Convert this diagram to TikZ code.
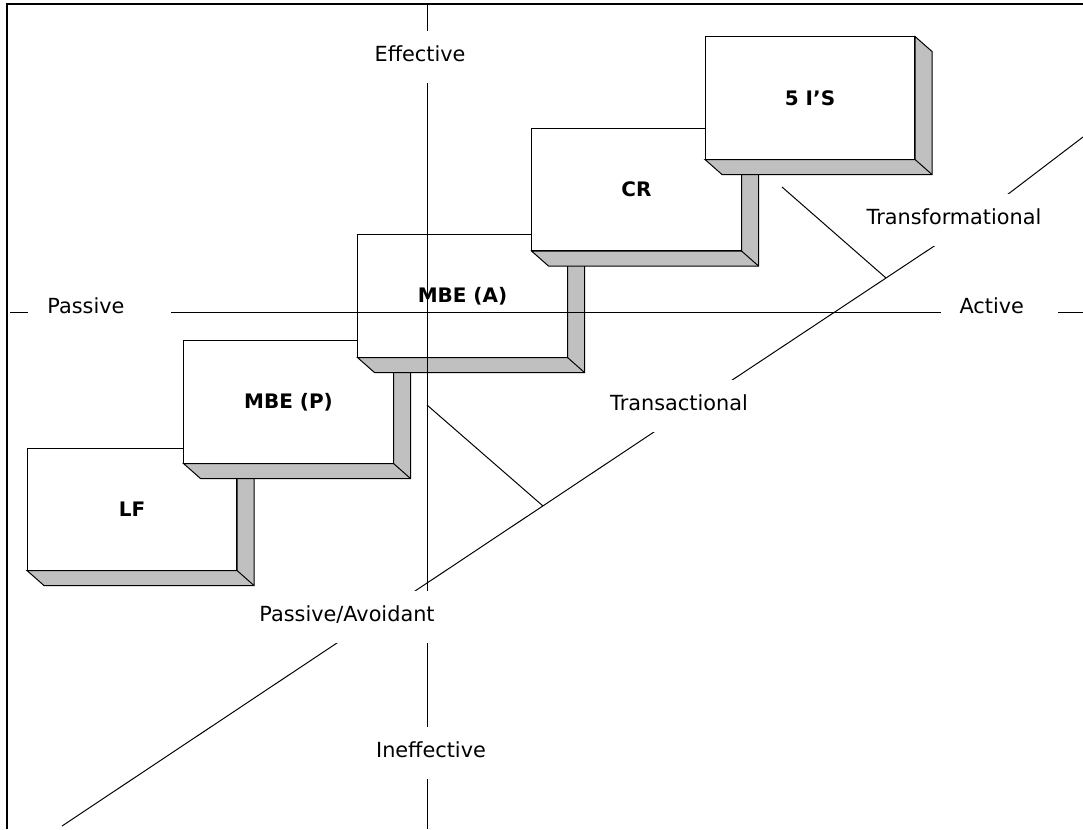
\documentclass[tikz,border=0pt]{standalone}
\usepackage{fontspec}
\setmainfont{DejaVu Sans}
\definecolor{stepgrey}{HTML}{C0C0C0}
\tikzset{
	stepbox/.style={draw, fill=white, minimum width=5.225cm, minimum height=3.05cm, inner sep=0pt, font=\fontsize{14.2}{17}\selectfont\bfseries},
	stepside/.style={draw, fill=stepgrey, line join=miter},
	axislbl/.style={fill=white, minimum height=1.3cm, text height=0.35cm, text depth=0.15cm, inner xsep=0.475cm, font=\fontsize{14.8}{17}\selectfont},
}

\begin{document}
\begin{tikzpicture}[x=0.025cm, y=-0.025cm, line width=0.7pt]
	\useasboundingbox (0,0) rectangle (1083,829);
	% steps, each one drawn over the one before
	\foreach \nm/\x/\y/\txt in {lf/132/509/LF, mbep/288.5/402/MBE (P), mbea/462.5/296/MBE (A), cr/636.5/189.5/CR, fivei/810/98/5 I’S}{
		\node[stepbox] (\nm) at (\x,\y) {\txt};
		\draw[stepside] (\nm.south west) -- ++(17,15) -- ([shift={(17,15)}]\nm.south east) -- ([shift={(17,15)}]\nm.north east) -- (\nm.north east) -- (\nm.south east) -- cycle;
		\draw (\nm.south east) -- ++(17,15);
	}
	% axes
	\coordinate (vtop) at (427,4);
	\coordinate (vbot) at (427,829);
	\coordinate (hleft) at (10,312);
	\coordinate (hright) at (1083,312);
	\draw (vtop) -- (vbot);
	\draw (hleft) -- (hright);
	% diagonal axis, bends hidden under the labels
	\coordinate (dlow) at (62,826);
	\coordinate (d1) at (376,617);
	\coordinate (d2) at (693,406);
	\coordinate (d3) at (978,217);
	\coordinate (dhigh) at (1083,137);
	\draw (dlow) -- (d1) -- (d2) -- (d3) -- (dhigh);
	% labels
	\node[axislbl] (eff) at (420,57) {Effective};
	\node[axislbl] (ineff) at (431,753) {Ineffective};
	\node[axislbl] (pasav) at (347,617) {Passive/Avoidant};
	\node[axislbl] (transac) at (679,406) {Transactional};
	\node[axislbl] (transf) at (954,220) {Transformational};
	\node[axislbl, anchor=west, text width=2.6cm, align=left] (pas) at (28,309) {Passive};
	\node[axislbl, anchor=west, text width=1.975cm, align=left] (act) at (940,309) {Active};
	% ticks to the diagonal
	\coordinate (tlow) at (427,405);
	\coordinate (tlowend) at (543,506);
	\coordinate (thigh) at (782,187);
	\coordinate (thighend) at (886,278);
	\draw (tlow) -- (tlowend);
	\draw (thigh) -- (thighend);
	% frame
	\draw[line width=1.6pt] (7,829) -- (7,4) -- (1083,4);
\end{tikzpicture}
\end{document}
